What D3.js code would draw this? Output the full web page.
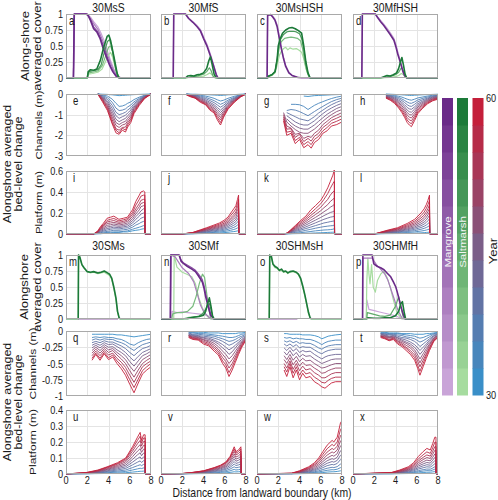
<!DOCTYPE html>
<html><head><meta charset="utf-8">
<script src="https://cdn.jsdelivr.net/npm/d3@7"></script>
<style>body{margin:0;background:#fff}svg{display:block}</style>
</head><body><svg id="c" width="498" height="500"></svg>
<script>
// ---------------- DATA ----------------
const years=[30,33,36,39,42,45,48,51,54,57,60];
const xTicks=[0,2,4,6,8];
const coverTicks=[0,0.25,0.5,0.75,1];
const chanTicksTop=[-3,-2,-1,0];
const platTicksTop=[0,0.2,0.4,0.6];
const chanTicksBot=[-1,-0.75,-0.5,-0.25,0];
const platTicksBot=[0,0.1,0.2,0.3,0.4];
const titlesTop=["30MsS","30MfS","30MsHSH","30MfHSH"];
const titlesBot=["30SMs","30SMf","30SHMsH","30SHMfH"];
const letters="abcdefghijklmnopqrstuvwx".split("");
const cbarTicks=[30,60];

// cover curves: [species, year, points(km, cover)]
const coverA=[
["M",30,[[0,0],[0.7,0],[0.78,1],[2.0,1],[2.3,0.95],[2.6,0.88],[3.0,0.8],[3.3,0.7],[3.6,0.58],[3.9,0.42],[4.2,0.27],[4.5,0.14],[4.8,0.05],[5.1,0.01],[5.3,0],[8,0]]],
["M",40,[[0,0],[0.7,0],[0.78,1],[2.0,1],[2.3,0.93],[2.6,0.85],[3.0,0.76],[3.3,0.65],[3.6,0.52],[3.9,0.37],[4.2,0.23],[4.5,0.11],[4.8,0.04],[5.1,0],[8,0]]],
["S",30,[[0,0],[2.0,0],[2.1,0.06],[2.5,0.07],[3.0,0.09],[3.4,0.14],[3.7,0.25],[4.0,0.36],[4.2,0.4],[4.4,0.32],[4.6,0.18],[4.8,0.07],[5.0,0.01],[5.2,0],[8,0]]],
["S",40,[[0,0],[2.0,0],[2.1,0.08],[2.5,0.09],[3.0,0.11],[3.4,0.19],[3.7,0.33],[4.0,0.48],[4.2,0.5],[4.4,0.4],[4.6,0.22],[4.8,0.08],[5.0,0.01],[5.2,0],[8,0]]],
["M",50,[[0,0],[0.7,0],[0.78,1],[2.0,1],[2.3,0.92],[2.6,0.8],[3.0,0.72],[3.3,0.6],[3.6,0.47],[3.9,0.32],[4.2,0.18],[4.5,0.08],[4.8,0.02],[5.0,0],[8,0]]],
["S",50,[[0,0],[2.0,0],[2.1,0.1],[2.5,0.11],[3.0,0.13],[3.3,0.2],[3.6,0.4],[3.9,0.57],[4.1,0.6],[4.3,0.5],[4.5,0.3],[4.7,0.12],[4.9,0.02],[5.1,0],[8,0]]],
["M",60,[[0,0],[0.7,0],[0.78,1],[1.9,1],[2.1,0.97],[2.3,0.9],[2.6,0.77],[2.9,0.72],[3.2,0.62],[3.5,0.46],[3.8,0.33],[4.1,0.2],[4.4,0.1],[4.7,0.03],[5.0,0],[8,0]]],
["S",60,[[0,0],[2.0,0],[2.1,0.1],[2.3,0.13],[2.6,0.12],[2.9,0.14],[3.24,0.28],[3.56,0.49],[3.87,0.65],[4.03,0.67],[4.19,0.59],[4.5,0.34],[4.83,0.06],[4.98,0],[8,0]]]
];
const coverB=[
["M",30,[[0,0],[1.15,0],[1.2,1],[2.3,1],[2.6,0.94],[3.0,0.88],[3.4,0.82],[3.7,0.76],[4.0,0.65],[4.35,0.52],[4.7,0.35],[5.0,0.18],[5.2,0.06],[5.4,0],[8,0]]],
["S",30,[[0,0],[2.5,0],[3.0,0.01],[3.5,0.02],[4.0,0.03],[4.3,0.05],[4.6,0.08],[4.8,0.05],[5.0,0.01],[5.2,0],[8,0]]],
["S",45,[[0,0],[2.4,0],[2.8,0.02],[3.2,0.02],[3.6,0.04],[4.0,0.06],[4.3,0.1],[4.55,0.16],[4.7,0.12],[4.9,0.03],[5.1,0],[8,0]]],
["M",60,[[0,0],[1.15,0],[1.2,1],[2.3,1],[2.6,0.93],[3.0,0.87],[3.4,0.8],[3.7,0.74],[4.0,0.62],[4.35,0.49],[4.7,0.32],[5.0,0.16],[5.2,0.05],[5.35,0],[8,0]]],
["S",60,[[0,0],[2.3,0],[2.5,0.03],[2.8,0.04],[3.1,0.03],[3.4,0.05],[3.7,0.06],[4.0,0.08],[4.3,0.15],[4.5,0.27],[4.65,0.33],[4.8,0.22],[5.0,0.06],[5.2,0],[8,0]]]
];
const coverC=[
["M",30,[[0,0],[0.95,0],[1.0,0.98],[1.3,0.99],[1.5,0.96],[1.7,0.92],[1.9,0.83],[2.1,0.66],[2.3,0.48],[2.5,0.32],[2.7,0.2],[3.0,0.09],[3.3,0.04],[3.8,0.01],[4.2,0],[8,0]]],
["S",30,[[0,0],[1.0,0],[1.1,0.02],[1.4,0.04],[1.7,0.08],[1.9,0.2],[2.1,0.35],[2.3,0.42],[2.5,0.46],[2.7,0.48],[2.9,0.44],[3.1,0.47],[3.4,0.45],[3.7,0.46],[4.0,0.43],[4.2,0.4],[4.4,0.3],[4.6,0.15],[4.8,0.05],[5.0,0],[8,0]]],
["S",40,[[0,0],[1.0,0],[1.1,0.03],[1.4,0.05],[1.7,0.1],[1.9,0.28],[2.1,0.48],[2.3,0.57],[2.6,0.62],[2.9,0.63],[3.2,0.64],[3.5,0.63],[3.8,0.62],[4.1,0.58],[4.3,0.45],[4.5,0.25],[4.7,0.1],[4.9,0.02],[5.0,0],[8,0]]],
["S",50,[[0,0],[1.0,0],[1.1,0.03],[1.4,0.05],[1.7,0.1],[1.9,0.3],[2.05,0.5],[2.2,0.6],[2.5,0.68],[2.8,0.72],[3.1,0.73],[3.4,0.73],[3.7,0.72],[4.0,0.69],[4.2,0.62],[4.4,0.45],[4.6,0.22],[4.8,0.07],[5.0,0],[8,0]]],
["M",60,[[0,0],[0.95,0],[1.0,0.98],[1.3,0.99],[1.5,0.95],[1.7,0.9],[1.9,0.8],[2.1,0.62],[2.3,0.45],[2.5,0.3],[2.7,0.18],[3.0,0.08],[3.3,0.04],[3.8,0.01],[4.2,0],[8,0]]],
["S",60,[[0,0],[1.0,0],[1.1,0.03],[1.4,0.05],[1.7,0.1],[1.9,0.3],[2.0,0.5],[2.15,0.6],[2.4,0.7],[2.7,0.75],[3.0,0.78],[3.3,0.79],[3.6,0.77],[3.9,0.74],[4.2,0.7],[4.4,0.5],[4.6,0.25],[4.8,0.08],[5.0,0],[8,0]]]
];
const coverD=[
["M",30,[[0,0],[0.83,0],[0.88,1],[2.1,1],[2.3,0.96],[2.6,0.9],[2.9,0.84],[3.2,0.78],[3.5,0.71],[3.85,0.62],[4.05,0.52],[4.2,0.42],[4.35,0.33],[4.5,0.24],[4.7,0.12],[4.85,0.05],[5.05,0],[8,0]]],
["S",30,[[0,0],[3.0,0],[3.5,0.01],[4.0,0.02],[4.3,0.04],[4.55,0.07],[4.75,0.05],[4.95,0.01],[5.1,0],[8,0]]],
["S",45,[[0,0],[2.8,0],[3.2,0.02],[3.6,0.03],[4.0,0.05],[4.3,0.09],[4.55,0.16],[4.75,0.11],[4.95,0.03],[5.1,0],[8,0]]],
["M",60,[[0,0],[0.83,0],[0.88,1],[2.1,1],[2.3,0.95],[2.6,0.88],[2.9,0.82],[3.2,0.75],[3.5,0.68],[3.85,0.59],[4.05,0.48],[4.2,0.38],[4.35,0.3],[4.5,0.22],[4.7,0.1],[4.85,0.04],[5.05,0],[8,0]]],
["S",60,[[0,0],[2.6,0],[2.9,0.02],[3.2,0.04],[3.5,0.03],[3.8,0.05],[4.1,0.08],[4.3,0.15],[4.5,0.27],[4.6,0.32],[4.75,0.2],[4.9,0.06],[5.05,0],[8,0]]]
];
const coverM=[
["S",30,[[0,0],[1.15,0],[1.18,1],[1.3,0.96],[1.5,0.84],[1.7,0.79],[2.0,0.74],[2.3,0.72],[2.6,0.73],[3.0,0.71],[3.3,0.72],[3.6,0.73],[3.9,0.7],[4.1,0.68],[4.3,0.62],[4.5,0.48],[4.7,0.3],[4.85,0.1],[5.0,0.01],[5.1,0],[8,0]]],
["S",60,[[0,0],[1.15,0],[1.18,1],[1.3,0.97],[1.5,0.85],[1.7,0.8],[2.0,0.74],[2.3,0.73],[2.6,0.74],[3.0,0.72],[3.3,0.73],[3.6,0.75],[3.9,0.72],[4.1,0.7],[4.3,0.64],[4.5,0.5],[4.7,0.33],[4.85,0.12],[5.0,0.02],[5.1,0],[8,0]]],
["M",60,[[1.15,0],[4.9,0]]]
];
const coverN=[
["M",30,[[0,0],[1.0,0],[1.05,0.12],[1.5,0.1],[2.0,0.11],[2.5,0.1],[3.0,0.09],[3.5,0.08],[4.0,0.07],[4.4,0.05],[4.6,0.02],[4.8,0],[8,0]]],
["S",30,[[0,0],[1.2,0],[1.24,1],[1.5,0.81],[2.0,0.73],[2.44,0.7],[2.9,0.66],[3.24,0.55],[3.56,0.33],[3.88,0.18],[4.2,0.07],[4.5,0.02],[4.7,0],[8,0]]],
["M",40,[[0,0],[0.9,0],[0.93,1],[1.33,0.97],[2.0,0.8],[2.6,0.71],[3.08,0.58],[3.4,0.4],[3.71,0.22],[4.03,0.11],[4.5,0.03],[4.7,0],[8,0]]],
["S",40,[[0,0],[1.0,0],[1.1,0.08],[1.5,0.1],[2.0,0.1],[2.5,0.12],[3.0,0.2],[3.3,0.35],[3.6,0.55],[3.9,0.7],[4.1,0.65],[4.3,0.4],[4.5,0.15],[4.7,0],[8,0]]],
["S",50,[[0,0],[2.0,0],[2.5,0.02],[3.0,0.03],[3.5,0.04],[3.9,0.08],[4.2,0.15],[4.4,0.22],[4.55,0.24],[4.7,0.15],[4.85,0.04],[5.0,0],[8,0]]],
["M",50,[[0,0],[0.88,0],[0.92,1],[1.7,1],[1.9,0.92],[2.1,0.88],[2.5,0.84],[2.9,0.8],[3.24,0.76],[3.5,0.71],[3.88,0.62],[4.05,0.52],[4.2,0.4],[4.4,0.26],[4.67,0.08],[4.98,0],[8,0]]],
["M",60,[[0,0],[0.88,0],[0.92,1],[1.7,1],[1.9,0.9],[2.1,0.87],[2.5,0.82],[2.9,0.78],[3.24,0.74],[3.5,0.68],[3.88,0.58],[4.05,0.48],[4.2,0.35],[4.4,0.22],[4.67,0.06],[4.98,0],[8,0]]],
["S",60,[[0,0],[2.5,0],[2.8,0.02],[3.2,0.03],[3.6,0.04],[4.0,0.06],[4.2,0.12],[4.4,0.25],[4.55,0.33],[4.7,0.2],[4.85,0.05],[5.0,0],[8,0]]]
];
const coverO=[
["S",30,[[0,0],[1.15,0],[1.2,0.99],[1.35,0.96],[1.5,0.85],[1.7,0.8],[1.9,0.79],[2.1,0.75],[2.3,0.76],[2.5,0.73],[2.7,0.74],[2.9,0.71],[3.1,0.73],[3.4,0.74],[3.7,0.72],[3.9,0.69],[4.1,0.62],[4.3,0.5],[4.5,0.36],[4.7,0.2],[4.85,0.08],[5.0,0.01],[5.1,0],[8,0]]],
["S",60,[[0,0],[1.15,0],[1.2,1],[1.35,0.98],[1.5,0.86],[1.7,0.82],[1.9,0.8],[2.1,0.76],[2.3,0.78],[2.5,0.74],[2.7,0.75],[2.9,0.72],[3.1,0.74],[3.4,0.75],[3.7,0.73],[3.9,0.7],[4.1,0.64],[4.3,0.52],[4.5,0.38],[4.7,0.22],[4.85,0.1],[5.0,0.02],[5.1,0],[8,0]]],
["M",60,[[1.2,0],[3.8,0]]]
];
const coverP=[
["M",30,[[0,0],[1.25,0],[1.3,0.3],[1.5,0.15],[2.0,0.13],[2.5,0.11],[3.0,0.09],[3.5,0.07],[4.0,0.05],[4.4,0.02],[4.6,0],[8,0]]],
["S",30,[[0,0],[1.25,0],[1.3,0.6],[1.4,0.95],[1.5,0.7],[1.6,0.55],[1.75,0.85],[1.9,0.5],[2.1,0.42],[2.3,0.6],[2.6,0.7],[2.9,0.75],[3.2,0.65],[3.5,0.5],[3.8,0.3],[4.1,0.12],[4.4,0.04],[4.6,0],[8,0]]],
["M",40,[[0,0],[0.9,0],[0.93,0.95],[1.8,0.95],[2.2,0.85],[2.6,0.78],[3.0,0.7],[3.3,0.6],[3.6,0.45],[3.9,0.3],[4.2,0.15],[4.5,0.05],[4.7,0],[8,0]]],
["S",45,[[0,0],[1.3,0],[1.35,0.1],[1.8,0.08],[2.5,0.05],[3.0,0.04],[3.5,0.06],[4.0,0.2],[4.3,0.35],[4.5,0.2],[4.7,0.05],[4.9,0],[8,0]]],
["M",60,[[0,0],[0.9,0],[0.93,1],[1.8,1],[1.96,0.86],[2.3,0.82],[2.6,0.8],[2.92,0.77],[3.2,0.72],[3.55,0.66],[3.8,0.58],[4.03,0.5],[4.2,0.4],[4.35,0.3],[4.5,0.2],[4.67,0.1],[4.9,0],[8,0]]],
["S",60,[[0,0],[1.3,0],[1.4,0.02],[2.0,0.01],[2.5,0.01],[3.0,0.02],[3.5,0.02],[4.0,0.05],[4.3,0.12],[4.5,0.24],[4.65,0.27],[4.8,0.12],[4.95,0],[8,0]]]
];

// bed-level change profiles: x grid (km) and one row per year (30..60)
const xE=[3.0,3.1,3.4,3.9,4.35,4.7,5.0,5.3,5.6,5.8,6.1,6.4,6.9,7.4,7.9,8.0];
const chanE=[
[0,0,-0.01,-0.02,-0.04,-0.06,-0.08,-0.07,-0.06,-0.05,-0.04,-0.03,-0.02,-0.01,0,0],
[0,-0.01,-0.04,-0.1,-0.25,-0.45,-0.6,-0.58,-0.52,-0.45,-0.38,-0.27,-0.15,-0.06,-0.01,0],
[0,-0.01,-0.06,-0.18,-0.4,-0.68,-0.8,-0.78,-0.72,-0.63,-0.53,-0.38,-0.21,-0.08,-0.01,0],
[0,-0.02,-0.09,-0.26,-0.55,-0.88,-1.0,-0.95,-0.88,-0.78,-0.66,-0.47,-0.26,-0.1,-0.02,0],
[0,-0.02,-0.12,-0.34,-0.7,-1.05,-1.18,-1.1,-1.03,-0.92,-0.78,-0.55,-0.3,-0.12,-0.02,0],
[0,-0.03,-0.15,-0.42,-0.84,-1.22,-1.34,-1.25,-1.18,-1.05,-0.9,-0.63,-0.34,-0.13,-0.02,0],
[0,-0.04,-0.19,-0.5,-0.98,-1.38,-1.48,-1.38,-1.32,-1.18,-1.0,-0.7,-0.38,-0.15,-0.03,0],
[0,-0.05,-0.22,-0.58,-1.12,-1.52,-1.62,-1.5,-1.45,-1.3,-1.1,-0.76,-0.42,-0.17,-0.03,0],
[0,-0.06,-0.26,-0.65,-1.25,-1.68,-1.75,-1.62,-1.6,-1.4,-1.2,-0.82,-0.46,-0.18,-0.03,0],
[0,-0.08,-0.3,-0.72,-1.38,-1.75,-1.88,-1.66,-1.74,-1.5,-1.28,-0.88,-0.5,-0.2,-0.04,0],
[0,-0.1,-0.35,-0.8,-1.45,-1.88,-1.95,-1.75,-1.84,-1.6,-1.38,-0.95,-0.55,-0.22,-0.04,0]
];
const xF=[2.4,2.8,3.2,3.7,4.2,4.6,5.0,5.3,5.6,5.9,6.3,6.9,7.5,8.0];
const chanF=[
[0,-0.01,-0.01,-0.02,-0.03,-0.04,-0.05,-0.06,-0.07,-0.06,-0.04,-0.03,-0.01,0],
[0,-0.02,-0.03,-0.06,-0.1,-0.15,-0.21,-0.28,-0.34,-0.3,-0.21,-0.11,-0.04,0],
[-0.01,-0.03,-0.05,-0.1,-0.16,-0.24,-0.32,-0.41,-0.5,-0.43,-0.3,-0.16,-0.05,0],
[-0.01,-0.04,-0.07,-0.14,-0.22,-0.32,-0.42,-0.53,-0.64,-0.54,-0.37,-0.2,-0.07,0],
[-0.01,-0.05,-0.09,-0.18,-0.28,-0.4,-0.52,-0.65,-0.78,-0.64,-0.44,-0.23,-0.08,0],
[-0.02,-0.06,-0.11,-0.22,-0.33,-0.47,-0.6,-0.75,-0.9,-0.73,-0.5,-0.26,-0.09,0],
[-0.02,-0.07,-0.13,-0.26,-0.38,-0.54,-0.68,-0.85,-1.02,-0.82,-0.55,-0.29,-0.1,0],
[-0.03,-0.09,-0.15,-0.3,-0.42,-0.6,-0.75,-0.95,-1.14,-0.9,-0.6,-0.32,-0.11,0],
[-0.03,-0.1,-0.17,-0.33,-0.46,-0.66,-0.82,-1.05,-1.26,-0.97,-0.65,-0.35,-0.12,0],
[-0.04,-0.12,-0.19,-0.36,-0.5,-0.72,-0.88,-1.15,-1.38,-1.05,-0.7,-0.38,-0.13,0],
[-0.05,-0.14,-0.2,-0.4,-0.52,-0.78,-0.92,-1.25,-1.5,-1.12,-0.74,-0.4,-0.14,0]
];
const xG=[2.5,2.8,3.2,3.6,4.0,4.4,4.8,5.1,5.4,5.8,6.2,6.6,7.0,7.5,8.0];
const chanG=[
[null,null,null,null,null,-0.1,-0.12,-0.1,-0.08,-0.07,-0.06,-0.05,-0.04,-0.03,-0.02],
[null,null,-0.5,-0.5,-0.52,-0.6,-0.75,-0.65,-0.55,-0.45,-0.37,-0.29,-0.22,-0.15,-0.1],
[null,-0.8,-0.75,-0.78,-0.85,-0.95,-1.05,-0.95,-0.85,-0.72,-0.6,-0.48,-0.37,-0.27,-0.2],
[null,-0.9,-1.0,-1.1,-1.2,-1.25,-1.3,-1.2,-1.1,-0.92,-0.78,-0.64,-0.52,-0.4,-0.3],
[null,-1.05,-1.2,-1.35,-1.45,-1.5,-1.5,-1.4,-1.3,-1.12,-0.95,-0.8,-0.68,-0.55,-0.45],
[null,-1.2,-1.4,-1.55,-1.65,-1.7,-1.7,-1.6,-1.5,-1.32,-1.15,-0.98,-0.85,-0.7,-0.6],
[-0.9,-1.35,-1.55,-1.72,-1.85,-1.9,-1.9,-1.8,-1.7,-1.52,-1.32,-1.15,-1.0,-0.85,-0.75],
[-1.0,-1.55,-1.65,-1.95,-1.9,-2.15,-2.05,-2.1,-1.9,-1.75,-1.48,-1.32,-1.15,-1.02,-0.9],
[-1.1,-1.7,-1.68,-2.1,-1.95,-2.3,-2.15,-2.28,-2.05,-1.9,-1.62,-1.47,-1.28,-1.17,-1.05],
[-1.2,-1.85,-1.8,-2.25,-2.1,-2.45,-2.3,-2.45,-2.2,-2.05,-1.78,-1.62,-1.42,-1.32,-1.2],
[-1.3,-2.0,-1.9,-2.4,-2.2,-2.6,-2.45,-2.62,-2.35,-2.2,-1.9,-1.78,-1.55,-1.48,-1.35]
];
const xH=[3.1,3.5,3.9,4.3,4.6,4.85,5.1,5.3,5.5,5.8,6.1,6.5,7.0,7.5,8.0];
const chanH=[
[0,-0.01,-0.02,-0.03,-0.04,-0.05,-0.06,-0.07,-0.07,-0.06,-0.05,-0.04,-0.03,-0.02,-0.01],
[-0.02,-0.04,-0.07,-0.11,-0.15,-0.2,-0.25,-0.28,-0.3,-0.25,-0.19,-0.15,-0.1,-0.06,-0.04],
[-0.04,-0.07,-0.11,-0.17,-0.24,-0.31,-0.39,-0.44,-0.45,-0.38,-0.29,-0.22,-0.15,-0.09,-0.06],
[-0.06,-0.1,-0.15,-0.23,-0.32,-0.41,-0.52,-0.58,-0.6,-0.5,-0.38,-0.29,-0.2,-0.12,-0.08],
[-0.08,-0.12,-0.19,-0.3,-0.41,-0.52,-0.65,-0.72,-0.74,-0.62,-0.47,-0.36,-0.24,-0.15,-0.1],
[-0.1,-0.15,-0.23,-0.36,-0.49,-0.62,-0.78,-0.86,-0.88,-0.73,-0.55,-0.42,-0.28,-0.18,-0.13],
[-0.12,-0.18,-0.27,-0.42,-0.57,-0.72,-0.9,-0.99,-1.02,-0.84,-0.63,-0.48,-0.32,-0.21,-0.15],
[-0.14,-0.21,-0.32,-0.48,-0.66,-0.82,-1.02,-1.12,-1.16,-0.95,-0.71,-0.54,-0.36,-0.24,-0.18],
[-0.16,-0.24,-0.36,-0.55,-0.74,-0.92,-1.14,-1.25,-1.3,-1.06,-0.79,-0.6,-0.4,-0.27,-0.2],
[-0.18,-0.27,-0.4,-0.62,-0.82,-1.02,-1.26,-1.38,-1.44,-1.17,-0.87,-0.66,-0.44,-0.3,-0.22],
[-0.2,-0.3,-0.45,-0.68,-0.9,-1.12,-1.38,-1.5,-1.58,-1.28,-0.95,-0.72,-0.48,-0.33,-0.25]
];
const xI=[0,2.6,3.0,3.24,3.5,3.87,4.2,4.5,4.98,5.4,5.78,6.26,6.57,6.9,7.05,7.3,7.42,7.43,8.0];
const platI=[
[0,0,0,0,0.005,0.01,0.01,0.015,0.015,0.02,0.02,0.03,0.035,0.04,0.045,0.05,0.05,0,0],
[0,0,0.003,0.006,0.01,0.015,0.018,0.02,0.02,0.025,0.03,0.045,0.055,0.065,0.07,0.08,0.08,0,0],
[0,0,0.005,0.012,0.018,0.025,0.03,0.035,0.035,0.04,0.045,0.065,0.085,0.1,0.11,0.12,0.12,0,0],
[0,0,0.008,0.018,0.027,0.038,0.045,0.05,0.048,0.055,0.06,0.085,0.11,0.135,0.15,0.16,0.16,0,0],
[0,0,0.01,0.025,0.036,0.052,0.058,0.065,0.06,0.068,0.075,0.105,0.14,0.17,0.19,0.2,0.2,0,0],
[0,0,0.013,0.032,0.046,0.067,0.072,0.08,0.073,0.08,0.09,0.125,0.165,0.2,0.22,0.24,0.24,0,0],
[0,0,0.016,0.039,0.056,0.083,0.088,0.095,0.086,0.093,0.105,0.145,0.19,0.23,0.26,0.27,0.27,0,0],
[0,0,0.019,0.046,0.066,0.1,0.105,0.11,0.1,0.107,0.12,0.165,0.215,0.26,0.29,0.3,0.3,0,0],
[0,0,0.022,0.053,0.077,0.115,0.122,0.128,0.112,0.12,0.133,0.185,0.24,0.29,0.32,0.33,0.33,0,0],
[0,0,0.026,0.06,0.088,0.13,0.14,0.148,0.125,0.135,0.146,0.205,0.275,0.33,0.36,0.37,0.37,0,0],
[0,0,0.03,0.07,0.1,0.15,0.16,0.17,0.14,0.15,0.16,0.23,0.31,0.37,0.4,0.41,0.4,0,0]
];
const xJ=[0,2.0,3.0,3.71,4.3,4.98,5.5,5.93,6.3,6.57,6.85,7.05,7.2,7.3,7.33,8.0];
const platJ=[
[0,0,0,0.003,0.005,0.008,0.01,0.013,0.016,0.02,0.023,0.026,0.03,0.035,0,0],
[0,0,0.002,0.006,0.01,0.015,0.019,0.024,0.03,0.036,0.043,0.05,0.058,0.065,0,0],
[0,0,0.003,0.01,0.015,0.022,0.028,0.035,0.044,0.053,0.063,0.073,0.086,0.095,0,0],
[0,0,0.005,0.014,0.021,0.03,0.037,0.046,0.058,0.07,0.083,0.096,0.114,0.125,0,0],
[0,0,0.006,0.018,0.026,0.037,0.046,0.057,0.071,0.087,0.103,0.119,0.142,0.155,0,0],
[0,0,0.008,0.021,0.032,0.045,0.055,0.068,0.085,0.104,0.123,0.142,0.17,0.185,0,0],
[0,0,0.009,0.025,0.037,0.052,0.064,0.079,0.099,0.121,0.143,0.165,0.198,0.215,0,0],
[0,0,0.011,0.029,0.043,0.06,0.073,0.09,0.112,0.138,0.163,0.188,0.226,0.245,0,0],
[0,0,0.012,0.032,0.048,0.068,0.083,0.102,0.126,0.155,0.183,0.211,0.254,0.29,0,0],
[0,0,0.014,0.036,0.054,0.076,0.094,0.116,0.143,0.177,0.21,0.24,0.29,0.33,0,0],
[0,0,0.015,0.04,0.06,0.085,0.105,0.13,0.16,0.2,0.24,0.27,0.33,0.37,0,0]
];
const xK=[0,2.54,2.85,3.17,3.6,4.12,4.6,5.07,5.5,6.0,6.3,6.66,6.9,7.14,7.25,7.28,7.3,8.0];
const platK=[
[0,0,0,0,0.002,0.004,0.006,0.008,0.01,0.012,0.013,0.015,0.016,0.017,0.018,0.018,0,0],
[0,0,0,0.003,0.008,0.013,0.018,0.024,0.03,0.035,0.038,0.04,0.042,0.045,0.05,0.05,0,0],
[0,0,0.002,0.007,0.015,0.025,0.035,0.045,0.055,0.065,0.07,0.075,0.078,0.08,0.085,0.085,0,0],
[0,0,0.003,0.012,0.024,0.038,0.052,0.066,0.08,0.095,0.105,0.112,0.118,0.122,0.125,0.125,0,0],
[0,0,0.004,0.016,0.032,0.05,0.068,0.088,0.106,0.127,0.14,0.152,0.16,0.165,0.17,0.17,0,0],
[0,0,0.005,0.02,0.04,0.063,0.085,0.11,0.132,0.158,0.175,0.193,0.205,0.212,0.22,0.22,0,0],
[0,0,0.006,0.024,0.048,0.076,0.102,0.132,0.158,0.19,0.212,0.235,0.255,0.27,0.28,0.28,0,0],
[0,0,0.007,0.028,0.056,0.089,0.119,0.155,0.185,0.222,0.25,0.28,0.31,0.33,0.34,0.34,0,0],
[0,0,0.008,0.032,0.064,0.102,0.136,0.177,0.212,0.255,0.29,0.33,0.37,0.4,0.41,0.41,0,0],
[0,0,0.009,0.036,0.072,0.116,0.153,0.2,0.24,0.288,0.33,0.385,0.435,0.48,0.5,0.5,0,0],
[0,0,0.01,0.04,0.08,0.13,0.17,0.23,0.27,0.32,0.37,0.44,0.5,0.56,0.6,0.65,0,0]
];
const xL=[0,2.0,3.2,4.2,5.1,5.8,6.4,6.7,6.9,7.05,7.2,7.22,8.0];
const platL=[
[0,0,0.002,0.004,0.006,0.008,0.011,0.013,0.015,0.016,0.018,0,0],
[0,0,0.005,0.009,0.014,0.02,0.028,0.033,0.038,0.042,0.048,0,0],
[0,0,0.008,0.014,0.023,0.032,0.045,0.054,0.062,0.07,0.08,0,0],
[0,0,0.011,0.019,0.031,0.044,0.062,0.074,0.086,0.098,0.112,0,0],
[0,0,0.014,0.024,0.04,0.056,0.079,0.095,0.11,0.126,0.145,0,0],
[0,0,0.017,0.029,0.048,0.068,0.096,0.115,0.134,0.154,0.178,0,0],
[0,0,0.02,0.035,0.057,0.081,0.114,0.136,0.159,0.182,0.21,0,0],
[0,0,0.024,0.041,0.067,0.094,0.133,0.158,0.185,0.211,0.243,0,0],
[0,0,0.027,0.047,0.077,0.108,0.153,0.181,0.212,0.241,0.277,0,0],
[0,0,0.031,0.053,0.088,0.123,0.175,0.209,0.244,0.278,0.32,0,0],
[0,0,0.035,0.06,0.1,0.14,0.2,0.24,0.28,0.32,0.37,0,0]
];
const xQ=[2.45,2.8,3.2,3.6,4.0,4.4,4.8,5.2,5.6,6.0,6.4,6.8,7.2,7.6,8.0];
const chanQ=[
[-0.05,-0.05,-0.05,-0.05,-0.05,-0.05,-0.06,-0.06,-0.07,-0.08,-0.09,-0.08,-0.07,-0.06,-0.05],
[-0.1,-0.09,-0.1,-0.09,-0.1,-0.1,-0.12,-0.13,-0.16,-0.2,-0.22,-0.18,-0.15,-0.13,-0.12],
[-0.14,-0.12,-0.14,-0.12,-0.13,-0.13,-0.16,-0.18,-0.21,-0.26,-0.3,-0.25,-0.21,-0.19,-0.17],
[-0.18,-0.16,-0.18,-0.15,-0.17,-0.17,-0.2,-0.23,-0.27,-0.33,-0.38,-0.32,-0.27,-0.25,-0.22],
[-0.22,-0.19,-0.22,-0.18,-0.21,-0.2,-0.24,-0.28,-0.33,-0.4,-0.46,-0.39,-0.33,-0.3,-0.27],
[-0.26,-0.22,-0.26,-0.21,-0.25,-0.24,-0.29,-0.33,-0.38,-0.47,-0.54,-0.46,-0.38,-0.35,-0.31],
[-0.3,-0.25,-0.3,-0.24,-0.29,-0.27,-0.33,-0.38,-0.44,-0.54,-0.62,-0.53,-0.44,-0.4,-0.36],
[-0.34,-0.28,-0.34,-0.27,-0.33,-0.3,-0.37,-0.43,-0.5,-0.61,-0.71,-0.6,-0.5,-0.45,-0.41],
[-0.38,-0.31,-0.38,-0.3,-0.37,-0.34,-0.42,-0.48,-0.56,-0.68,-0.79,-0.67,-0.55,-0.5,-0.46],
[-0.42,-0.34,-0.42,-0.33,-0.41,-0.37,-0.46,-0.53,-0.62,-0.75,-0.87,-0.74,-0.61,-0.55,-0.5],
[-0.45,-0.36,-0.45,-0.35,-0.44,-0.4,-0.5,-0.58,-0.68,-0.82,-0.95,-0.8,-0.66,-0.6,-0.55]
];
const xR=[2.6,3.0,3.5,4.0,4.5,5.0,5.4,5.8,6.1,6.4,6.7,7.0,7.3,7.6,8.0];
const chanR=[
[-0.01,-0.02,-0.02,-0.02,-0.03,-0.03,-0.03,-0.04,-0.04,-0.04,-0.04,-0.04,-0.03,-0.03,-0.02],
[-0.02,-0.03,-0.04,-0.04,-0.05,-0.06,-0.07,-0.08,-0.09,-0.1,-0.1,-0.09,-0.07,-0.05,-0.04],
[-0.03,-0.05,-0.05,-0.06,-0.07,-0.08,-0.1,-0.12,-0.14,-0.16,-0.15,-0.13,-0.1,-0.08,-0.05],
[-0.04,-0.06,-0.07,-0.08,-0.09,-0.11,-0.13,-0.16,-0.19,-0.22,-0.2,-0.17,-0.14,-0.1,-0.07],
[-0.05,-0.07,-0.08,-0.1,-0.11,-0.14,-0.17,-0.21,-0.25,-0.29,-0.26,-0.22,-0.17,-0.13,-0.08],
[-0.06,-0.08,-0.09,-0.11,-0.13,-0.16,-0.2,-0.26,-0.3,-0.36,-0.32,-0.26,-0.2,-0.15,-0.09],
[-0.07,-0.09,-0.1,-0.13,-0.15,-0.19,-0.24,-0.31,-0.36,-0.43,-0.38,-0.31,-0.24,-0.17,-0.1],
[-0.07,-0.1,-0.11,-0.14,-0.17,-0.22,-0.28,-0.36,-0.42,-0.5,-0.44,-0.36,-0.27,-0.19,-0.11],
[-0.08,-0.11,-0.12,-0.16,-0.19,-0.25,-0.31,-0.41,-0.47,-0.57,-0.5,-0.4,-0.3,-0.21,-0.12],
[-0.09,-0.12,-0.13,-0.18,-0.21,-0.28,-0.34,-0.46,-0.52,-0.64,-0.55,-0.44,-0.33,-0.23,-0.13],
[-0.1,-0.13,-0.14,-0.2,-0.23,-0.31,-0.37,-0.5,-0.57,-0.7,-0.6,-0.48,-0.36,-0.25,-0.14]
];
const xS=[2.55,2.8,3.1,3.4,3.7,4.0,4.3,4.6,5.0,5.4,5.8,6.1,6.4,6.7,7.0,7.4,8.0];
const chanS=[
[-0.04,-0.04,-0.05,-0.05,-0.05,-0.05,-0.06,-0.06,-0.06,-0.07,-0.09,-0.12,-0.1,-0.08,-0.07,-0.06,-0.05],
[-0.1,-0.11,-0.1,-0.12,-0.11,-0.12,-0.12,-0.13,-0.13,-0.15,-0.18,-0.21,-0.18,-0.16,-0.15,-0.14,-0.14],
[-0.15,-0.17,-0.15,-0.18,-0.16,-0.19,-0.18,-0.19,-0.19,-0.22,-0.26,-0.28,-0.25,-0.23,-0.22,-0.21,-0.21],
[-0.2,-0.23,-0.2,-0.24,-0.21,-0.26,-0.24,-0.25,-0.25,-0.29,-0.33,-0.35,-0.32,-0.3,-0.29,-0.28,-0.28],
[-0.26,-0.3,-0.25,-0.31,-0.27,-0.33,-0.3,-0.32,-0.31,-0.36,-0.4,-0.43,-0.4,-0.38,-0.37,-0.36,-0.36],
[-0.32,-0.37,-0.3,-0.38,-0.33,-0.4,-0.36,-0.39,-0.38,-0.43,-0.47,-0.5,-0.48,-0.46,-0.44,-0.43,-0.43],
[-0.38,-0.44,-0.36,-0.45,-0.39,-0.47,-0.42,-0.46,-0.45,-0.5,-0.54,-0.57,-0.56,-0.54,-0.52,-0.5,-0.5],
[-0.44,-0.5,-0.41,-0.52,-0.45,-0.54,-0.48,-0.53,-0.52,-0.57,-0.61,-0.65,-0.64,-0.61,-0.59,-0.57,-0.57],
[-0.5,-0.57,-0.46,-0.59,-0.5,-0.61,-0.54,-0.6,-0.58,-0.64,-0.68,-0.72,-0.72,-0.69,-0.66,-0.64,-0.64],
[-0.55,-0.63,-0.5,-0.65,-0.55,-0.68,-0.6,-0.66,-0.64,-0.71,-0.75,-0.79,-0.8,-0.76,-0.73,-0.71,-0.71],
[-0.6,-0.7,-0.55,-0.72,-0.6,-0.75,-0.65,-0.72,-0.7,-0.78,-0.82,-0.86,-0.88,-0.84,-0.8,-0.78,-0.78]
];
const xT=[2.6,3.0,3.4,3.8,4.2,4.6,5.0,5.4,5.8,6.1,6.3,6.6,6.9,7.2,7.6,8.0];
const chanT=[
[-0.02,-0.02,-0.03,-0.03,-0.03,-0.04,-0.04,-0.04,-0.05,-0.05,-0.05,-0.05,-0.04,-0.04,-0.03,-0.02],
[-0.03,-0.03,-0.04,-0.04,-0.04,-0.05,-0.06,-0.07,-0.08,-0.1,-0.11,-0.1,-0.08,-0.06,-0.04,-0.03],
[-0.04,-0.04,-0.05,-0.05,-0.06,-0.07,-0.09,-0.1,-0.12,-0.15,-0.17,-0.15,-0.12,-0.09,-0.05,-0.04],
[-0.04,-0.05,-0.06,-0.06,-0.08,-0.1,-0.11,-0.13,-0.16,-0.2,-0.24,-0.2,-0.16,-0.12,-0.07,-0.04],
[-0.05,-0.06,-0.08,-0.07,-0.1,-0.12,-0.14,-0.17,-0.21,-0.26,-0.3,-0.25,-0.2,-0.14,-0.08,-0.05],
[-0.06,-0.07,-0.09,-0.08,-0.11,-0.14,-0.17,-0.2,-0.25,-0.31,-0.36,-0.3,-0.23,-0.17,-0.1,-0.06],
[-0.07,-0.08,-0.1,-0.09,-0.13,-0.16,-0.19,-0.23,-0.29,-0.37,-0.43,-0.35,-0.27,-0.2,-0.11,-0.07],
[-0.08,-0.09,-0.11,-0.1,-0.15,-0.18,-0.22,-0.26,-0.33,-0.42,-0.49,-0.4,-0.31,-0.22,-0.12,-0.08],
[-0.08,-0.1,-0.13,-0.11,-0.16,-0.2,-0.25,-0.3,-0.37,-0.47,-0.55,-0.45,-0.35,-0.25,-0.14,-0.09],
[-0.09,-0.11,-0.14,-0.12,-0.18,-0.22,-0.27,-0.33,-0.41,-0.53,-0.62,-0.5,-0.38,-0.27,-0.15,-0.09],
[-0.1,-0.12,-0.15,-0.13,-0.2,-0.24,-0.3,-0.36,-0.45,-0.58,-0.68,-0.55,-0.42,-0.3,-0.16,-0.1]
];
const xU=[0,1.97,3.0,3.87,4.83,5.62,6.26,6.73,6.98,7.11,7.3,7.45,7.46,8.0];
const platU=[
[0,0,0.002,0.004,0.006,0.008,0.012,0.015,0.017,0.017,0.018,0.018,0,0],
[0,0.001,0.004,0.008,0.012,0.016,0.025,0.032,0.036,0.034,0.038,0.038,0,0],
[0,0.002,0.006,0.012,0.018,0.025,0.04,0.052,0.058,0.052,0.06,0.06,0,0],
[0,0.003,0.008,0.016,0.025,0.035,0.057,0.074,0.082,0.072,0.083,0.083,0,0],
[0,0.004,0.01,0.02,0.032,0.045,0.074,0.097,0.107,0.093,0.107,0.107,0,0],
[0,0.005,0.013,0.025,0.039,0.055,0.091,0.12,0.133,0.114,0.131,0.131,0,0],
[0,0.006,0.015,0.029,0.046,0.065,0.108,0.143,0.158,0.135,0.155,0.155,0,0],
[0,0.007,0.018,0.033,0.053,0.076,0.126,0.166,0.184,0.155,0.179,0.179,0,0],
[0,0.008,0.02,0.038,0.06,0.086,0.143,0.189,0.21,0.175,0.203,0.203,0,0],
[0,0.009,0.022,0.042,0.065,0.094,0.158,0.21,0.236,0.193,0.225,0.225,0,0],
[0,0.01,0.025,0.045,0.07,0.1,0.17,0.23,0.26,0.21,0.245,0.245,0,0]
];
const xV=[0,2.0,3.0,4.0,5.0,5.6,6.1,6.5,6.89,7.05,7.3,7.52,7.55,8.0];
const platV=[
[0,0,0.001,0.002,0.004,0.005,0.007,0.01,0.014,0.013,0.014,0.015,0,0],
[0,0,0.002,0.004,0.007,0.01,0.014,0.02,0.029,0.025,0.027,0.03,0,0],
[0,0.001,0.003,0.006,0.011,0.015,0.021,0.031,0.045,0.039,0.042,0.046,0,0],
[0,0.001,0.004,0.008,0.015,0.021,0.029,0.042,0.062,0.053,0.057,0.063,0,0],
[0,0.001,0.005,0.01,0.019,0.026,0.036,0.053,0.078,0.066,0.071,0.079,0,0],
[0,0.002,0.006,0.012,0.023,0.032,0.044,0.064,0.094,0.08,0.086,0.096,0,0],
[0,0.002,0.007,0.014,0.027,0.037,0.051,0.075,0.11,0.093,0.1,0.112,0,0],
[0,0.002,0.008,0.016,0.031,0.042,0.058,0.085,0.125,0.106,0.114,0.128,0,0],
[0,0.003,0.009,0.018,0.035,0.048,0.066,0.096,0.141,0.119,0.128,0.143,0,0],
[0,0.003,0.01,0.019,0.038,0.052,0.071,0.104,0.156,0.13,0.14,0.157,0,0],
[0,0.003,0.01,0.02,0.04,0.055,0.075,0.11,0.17,0.14,0.15,0.17,0,0]
];
const xW=[0,3.27,4.0,4.86,5.4,5.81,6.2,6.6,7.07,7.23,7.55,7.86,7.96,7.97,8.0];
const platW=[
[0,0,0.001,0.003,0.005,0.007,0.009,0.012,0.014,0.014,0.016,0.02,0.02,0,0],
[0,0.001,0.002,0.006,0.009,0.013,0.018,0.023,0.027,0.026,0.03,0.04,0.041,0,0],
[0,0.001,0.004,0.009,0.014,0.02,0.028,0.036,0.042,0.04,0.046,0.062,0.064,0,0],
[0,0.002,0.006,0.013,0.02,0.029,0.04,0.052,0.06,0.057,0.066,0.09,0.093,0,0],
[0,0.002,0.008,0.017,0.026,0.037,0.052,0.067,0.078,0.074,0.085,0.117,0.12,0,0],
[0,0.003,0.01,0.021,0.032,0.046,0.064,0.083,0.096,0.091,0.105,0.145,0.149,0,0],
[0,0.003,0.011,0.026,0.039,0.056,0.078,0.1,0.117,0.111,0.127,0.176,0.181,0,0],
[0,0.004,0.013,0.031,0.047,0.066,0.092,0.118,0.138,0.131,0.15,0.207,0.213,0,0],
[0,0.004,0.015,0.035,0.055,0.077,0.107,0.137,0.16,0.152,0.174,0.24,0.247,0,0],
[0,0.005,0.018,0.04,0.062,0.088,0.123,0.158,0.185,0.175,0.2,0.278,0.287,0,0],
[0,0.005,0.02,0.045,0.07,0.1,0.14,0.18,0.21,0.2,0.23,0.32,0.33,0,0]
];
const xX=[0,3.65,4.4,5.2,5.7,6.16,6.6,6.95,7.27,7.5,7.7,7.81,7.82,8.0];
const platX=[
[0,0,0.001,0.003,0.005,0.007,0.009,0.011,0.011,0.013,0.015,0.015,0,0],
[0,0.001,0.003,0.006,0.009,0.014,0.018,0.021,0.02,0.025,0.03,0.03,0,0],
[0,0.002,0.005,0.009,0.014,0.021,0.027,0.031,0.03,0.037,0.045,0.045,0,0],
[0,0.003,0.007,0.013,0.02,0.031,0.039,0.045,0.043,0.053,0.064,0.064,0,0],
[0,0.004,0.009,0.017,0.026,0.04,0.051,0.058,0.055,0.069,0.084,0.084,0,0],
[0,0.005,0.011,0.021,0.032,0.05,0.063,0.072,0.068,0.086,0.104,0.104,0,0],
[0,0.006,0.013,0.025,0.039,0.06,0.076,0.087,0.082,0.104,0.125,0.125,0,0],
[0,0.007,0.016,0.029,0.046,0.071,0.09,0.103,0.097,0.123,0.148,0.148,0,0],
[0,0.008,0.019,0.034,0.053,0.082,0.104,0.119,0.112,0.142,0.171,0.171,0,0],
[0,0.009,0.022,0.039,0.061,0.095,0.12,0.138,0.129,0.164,0.199,0.199,0,0],
[0,0.01,0.025,0.045,0.07,0.11,0.14,0.16,0.15,0.19,0.23,0.23,0,0]
];

// ---------------- LAYOUT / STYLE ----------------
const COLS=[66,161,257,353], PW=85;
const ROWS=[{y:14,h:64},{y:94,h:62},{y:171,h:63},{y:255,h:64},{y:331,h:65},{y:410,h:64}];
const rowTicks=[coverTicks,chanTicksTop,platTicksTop,coverTicks,chanTicksBot,platTicksBot];
const rowDomain=rowTicks.map(t=>[t[0],t[t.length-1]]);
const FONT="'Liberation Sans',Arial,Helvetica,sans-serif";
const SX=0.8;
const yearColor=d3.scaleLinear().domain([30,37.5,45,52.5,60]).range(["#3a8fc8","#5c78ab","#7b5e88","#a23c5d","#c41f3a"]).interpolate(d3.interpolateRgb);
const mangColor=d3.scaleLinear().domain([30,60]).range(["#c9a4d8","#6a2a88"]);
const saltColor=d3.scaleLinear().domain([30,60]).range(["#a6dc9f","#1c7a39"]);

const panels=[
{r:0,c:0,cover:coverA},{r:0,c:1,cover:coverB},{r:0,c:2,cover:coverC},{r:0,c:3,cover:coverD},
{r:1,c:0,xs:xE,ys:chanE},{r:1,c:1,xs:xF,ys:chanF},{r:1,c:2,xs:xG,ys:chanG},{r:1,c:3,xs:xH,ys:chanH},
{r:2,c:0,xs:xI,ys:platI},{r:2,c:1,xs:xJ,ys:platJ},{r:2,c:2,xs:xK,ys:platK},{r:2,c:3,xs:xL,ys:platL},
{r:3,c:0,cover:coverM},{r:3,c:1,cover:coverN},{r:3,c:2,cover:coverO},{r:3,c:3,cover:coverP},
{r:4,c:0,xs:xQ,ys:chanQ},{r:4,c:1,xs:xR,ys:chanR},{r:4,c:2,xs:xS,ys:chanS},{r:4,c:3,xs:xT,ys:chanT},
{r:5,c:0,xs:xU,ys:platU},{r:5,c:1,xs:xV,ys:platV},{r:5,c:2,xs:xW,ys:platW},{r:5,c:3,xs:xX,ys:platX}
];

const svg=d3.select("#c");
svg.append("rect").attr("width",498).attr("height",500).attr("fill","#fff");
const defs=svg.append("defs");
function htext(g,x,y,s,size,anchor,fill){
  return g.append("text").attr("transform",`translate(${x},${y}) scale(${SX},1)`)
   .attr("text-anchor",anchor||"middle").attr("font-size",size).attr("font-family",FONT)
   .attr("fill",fill||"#1a1a1a").text(s);
}
function vtext(g,x,y,s,size,fill){
  return g.append("text").attr("transform",`translate(${x},${y}) rotate(-90) scale(1,${SX})`)
   .attr("text-anchor","middle").attr("dominant-baseline","central").attr("font-size",size)
   .attr("font-family",FONT).attr("fill",fill||"#1a1a1a").text(s);
}

panels.forEach((p,pi)=>{
  const R=ROWS[p.r], x0=COLS[p.c];
  const sx=d3.scaleLinear().domain([0,8]).range([x0,x0+PW]);
  const sy=d3.scaleLinear().domain(rowDomain[p.r]).range([R.y+R.h,R.y]);
  const g=svg.append("g");
  xTicks.slice(1,-1).forEach(t=>g.append("line").attr("x1",Math.round(sx(t))+0.5).attr("x2",Math.round(sx(t))+0.5)
    .attr("y1",R.y).attr("y2",R.y+R.h).attr("stroke","#e4e4e4").attr("stroke-width",1));
  rowTicks[p.r].slice(1,-1).forEach(t=>g.append("line").attr("y1",Math.round(sy(t))+0.5).attr("y2",Math.round(sy(t))+0.5)
    .attr("x1",x0).attr("x2",x0+PW).attr("stroke","#e4e4e4").attr("stroke-width",1));
  defs.append("clipPath").attr("id","cp"+pi).append("rect").attr("x",x0).attr("y",R.y-1).attr("width",PW).attr("height",R.h+1.5);
  const lg=g.append("g").attr("clip-path",`url(#cp${pi})`);
  const line=d3.line().defined(d=>d[1]!=null).x(d=>sx(d[0])).y(d=>sy(d[1]));
  if(p.cover){
    p.cover.forEach(([sp,yr,pts])=>{
      lg.append("path").attr("d",line(pts)).attr("fill","none")
        .attr("stroke",sp==="M"?mangColor(yr):saltColor(yr)).attr("stroke-width",yr>=55?1.6:1.2)
        .attr("stroke-linejoin","round");
    });
  } else {
    p.ys.forEach((vals,k)=>{
      const pts=p.xs.map((x,i)=>[x,vals[i]]);
      lg.append("path").attr("d",line(pts)).attr("fill","none")
        .attr("stroke",yearColor(years[k])).attr("stroke-width",0.9).attr("stroke-linejoin","round");
    });
  }
  g.append("rect").attr("x",x0+0.5).attr("y",R.y+0.5).attr("width",PW-1).attr("height",R.h-1)
    .attr("fill","none").attr("stroke","#a9a9a9").attr("stroke-width",1);
  const isCover=!!p.cover;
  htext(g,isCover?x0+3:x0+7,R.y+11,letters[pi],12,"start");
  if(p.c===0){
    rowTicks[p.r].forEach(t=>htext(g,x0-3,sy(t)+4,String(t),11.5,"end"));
  }
  if(p.r===5){
    xTicks.forEach(t=>htext(g,sx(t),484,String(t),11.5,"middle"));
  }
});

// titles
titlesTop.forEach((t,i)=>htext(svg,COLS[i]+PW/2,11.5,t,13));
titlesBot.forEach((t,i)=>htext(svg,COLS[i]+PW/2,250,t,13));

// y axis labels
vtext(svg,25,46,"Along-shore",13); vtext(svg,37,46,"averaged cover",13);
vtext(svg,7,164,"Alongshore averaged",12.5); vtext(svg,18,164,"bed-level change",12.5);
vtext(svg,39,125,"Channels (m)",11.5); vtext(svg,39,202.5,"Platform (m)",11.5);
vtext(svg,24,287,"Alongshore",13); vtext(svg,37,287,"averaged cover",13);
vtext(svg,7,402,"Alongshore averaged",12.5); vtext(svg,18,402,"bed-level change",12.5);
vtext(svg,32,363.5,"Channels (m)",12); vtext(svg,32,442,"Platform (m)",12);
htext(svg,262,497,"Distance from landward boundary (km)",13);

// colorbars
const cbY0=98, cbY1=395;
const band=d3.scaleBand().domain(years.slice().reverse()).range([cbY0,cbY1]);
const bars=[{x:442,col:mangColor,label:"Mangrove"},{x:457,col:saltColor,label:"Saltmarsh"},{x:472.5,col:yearColor,label:null}];
bars.forEach(b=>{
  years.forEach(yv=>svg.append("rect").attr("x",b.x).attr("y",band(yv)).attr("width",11).attr("height",band.bandwidth()+0.5).attr("fill",b.col(yv)));
  if(b.label) vtext(svg,b.x+5.5,242,b.label,11.5,"#f4f4f4");
});
const cbScale=d3.scaleLinear().domain([30,60]).range([cbY1,cbY0]);
cbarTicks.forEach(t=>htext(svg,486,cbScale(t)+4,String(t),11.5,"start"));
vtext(svg,493,251,"Year",13);
</script></body></html>
